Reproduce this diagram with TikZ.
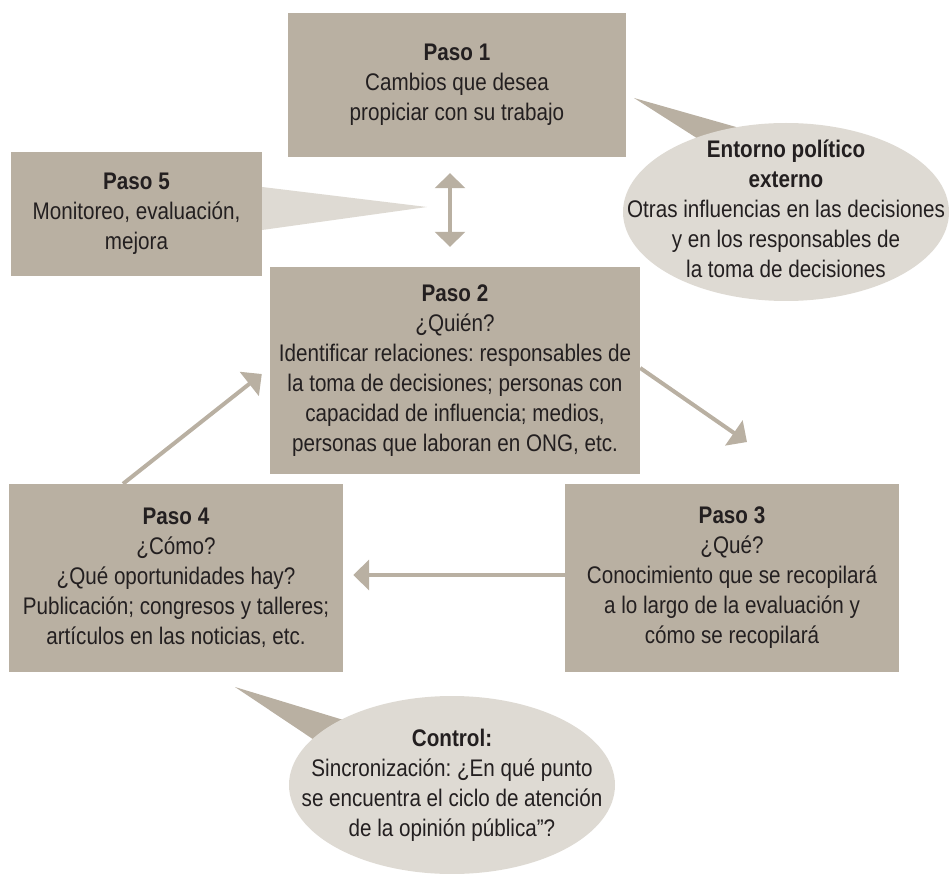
\documentclass[tikz,border=0pt]{standalone}
\usepackage{fontspec}
\setmainfont{Liberation Sans}[FakeStretch=0.86]
\usepackage{xcolor}
\usepackage{tikz}
\usetikzlibrary{
	arrows.meta,
	shapes.geometric
}
\definecolor{Caja}{RGB}{185,176,162}
\definecolor{Globo}{RGB}{222,218,211}
\definecolor{Texto}{RGB}{35,31,32}
\frenchspacing

\begin{document}
\begin{tikzpicture}[x=1pt, y=-1pt,
		caja/.style={fill=Caja, text=Texto, align=center, inner sep=0pt, font=\fontsize{24}{30}\selectfont},
		globo/.style={ellipse, fill=Globo, inner sep=0pt, minimum width=326pt, minimum height=178pt},
		leyenda/.style={text=Texto, align=center, inner sep=0pt, font=\fontsize{24}{30}\selectfont},
		flecha/.style={Caja, line width=4pt, -{Triangle[length=16pt, width=30pt]}}]
			\useasboundingbox (0,0) rectangle (950,874);
			\fill[Caja] (634,98) -- (810,148) -- (750,172) -- cycle;
			\fill[Caja] (235,687) -- (429,746) -- (377,782) -- cycle;
			\node[caja, minimum width=338pt, minimum height=144pt] (paso1) at (457,85) {\textbf{Paso 1}\\Cambios que desea\\propiciar con su trabajo};
			\node[caja, minimum width=370pt, minimum height=207pt] (paso2) at (455,370.5) {\textbf{Paso 2}\\¿Quién?\\Identificar relaciones: responsables de\\la toma de decisiones; personas con\\capacidad de influencia; medios,\\personas que laboran en ONG, etc.};
			\node[caja, minimum width=334pt, minimum height=188pt] (paso3) at (732,578) {\textbf{Paso 3}\\¿Qué?\\Conocimiento que se recopilará\\a lo largo de la evaluación y\\cómo se recopilará};
			\node[caja, minimum width=334pt, minimum height=188pt] (paso4) at (176,578) {\textbf{Paso 4}\\¿Cómo?\\¿Qué oportunidades hay?\\Publicación; congresos y talleres;\\artículos en las noticias, etc.};
			\node[caja, minimum width=251pt, minimum height=124pt] (paso5) at (136.5,214) {\textbf{Paso 5}\\Monitoreo, evaluación,\\mejora};
			\node[globo] (entorno) at (786,212) {};
			\node[leyenda] (entornotxt) at ([yshift=3pt]entorno) {\textbf{Entorno político}\\\textbf{externo}\\Otras influencias en las decisiones\\y en los responsables de\\la toma de decisiones};
			\node[globo] (control) at (452,785) {};
			\node[leyenda] (controltxt) at (control) {\textbf{Control:}\\Sincronización: ¿En qué punto\\se encuentra el ciclo de atención\\de la opinión pública”?};
			\coordinate (punta5) at (427,207);
			\coordinate (haciapaso3) at (747,442);
			\fill[Globo] ([yshift=27pt]paso5.east) -- (punta5) -- ([yshift=-16pt]paso5.east) -- cycle;
			\draw[flecha, {Triangle[length=15pt, width=30pt]}-{Triangle[length=15pt, width=30pt]}, shorten <=16pt, shorten >=20pt] ([xshift=-7pt]paso1.south) -- ([xshift=-5pt]paso2.north);
			\draw[flecha] ([yshift=2.5pt]paso2.east) -- (haciapaso3);
			\draw[flecha, shorten >=10pt] ([yshift=3pt]paso3.west) -- ([yshift=3pt]paso4.east);
			\draw[flecha] ([xshift=-53pt]paso4.north) -- ([xshift=-8pt, yshift=-3.5pt]paso2.west);
		\end{tikzpicture}
\end{document}
